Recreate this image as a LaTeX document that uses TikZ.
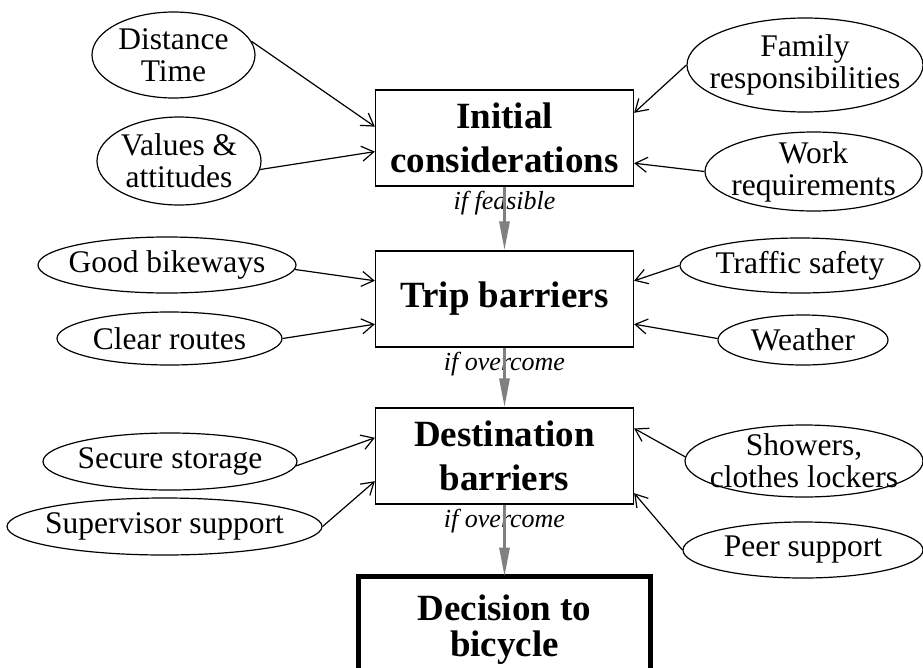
\documentclass[tikz,border=0pt]{standalone}
\usepackage{fontspec}
\setmainfont{Liberation Serif}
\usetikzlibrary{shapes.geometric}
\usetikzlibrary{arrows.meta}
\tikzset{
    stagebox/.style = {rectangle, draw=black, line width=1.3pt, align=center, minimum width=258pt, minimum height=96pt, font=\bfseries\fontsize{37}{44}\selectfont},
    goalbox/.style = {stagebox, line width=5pt, minimum width=292pt, minimum height=107pt, font=\bfseries\fontsize{37}{36}\selectfont},
    factor/.style = {ellipse, draw=black, line width=1.2pt, inner sep=0pt},
    cond/.style = {below, inner sep=4pt, font=\itshape\fontsize{26}{30}\selectfont},
    edgek/.style = {-{Straight Barb[length=12pt,width=15pt]}, line width=1.2pt},
    edgeg/.style = {-{Triangle[length=29pt,width=10pt]}, line width=3pt, black!50}, % stage to stage
    every label/.style = {align=center}
}
\begin{document}
\begin{tikzpicture}[x=1pt, y=-1pt, font=\fontsize{31.5}{32}\selectfont]
\useasboundingbox (0,0) rectangle (923,667);
%
\node[stagebox] at (504.5,138) (init) {Initial\\considerations};
\node[stagebox] at (504.5,299) (trip) {Trip barriers};
\node[stagebox] at (504.5,456) (dest) {Destination\\barriers};
\node[goalbox] at (504.5,630) (dec) {Decision to\\bicycle};
%
\node[factor, minimum width=163pt, minimum height=86pt, label={center:Distance\\Time}] at (173.5,55) (dt) {};
\node[factor, minimum width=164pt, minimum height=88pt, label={center:Values \&\\attitudes}] at (179,161) (va) {};
\node[factor, minimum width=236pt, minimum height=94pt, label={center:Family\\responsibilities}] at (805,65) (fr) {};
\node[factor, minimum width=217pt, minimum height=79pt, label={center:Work\\requirements}] at (813.5,171.5) (wr) {};
\node[factor, minimum width=258pt, minimum height=56pt, label={center:Good bikeways}] at (167,265) (gb) {};
\node[factor, minimum width=225pt, minimum height=53pt, label={center:Clear routes}] at (169.5,338.5) (cr) {};
\node[factor, minimum width=240pt, minimum height=55pt, label={center:Traffic safety}] at (800,265.5) (ts) {};
\node[factor, minimum width=170pt, minimum height=50pt, label={center:Weather}] at (803,340) (we) {};
\node[factor, minimum width=254pt, minimum height=57pt, label={center:Secure storage}] at (170,461.5) (ss) {};
\node[factor, minimum width=315pt, minimum height=57pt, label={center:Supervisor support}] at (164.5,526.5) (sv) {};
\node[factor, minimum width=238pt, minimum height=72pt, label={center:Showers,\\clothes lockers}] at (804,461) (sh) {};
\node[factor, minimum width=240pt, minimum height=56pt, label={center:Peer support}] at (803,550) (ps) {};
%
\node[cond] at (init.south) (lf) {if feasible};
\node[cond] at (trip.south) (lt) {if overcome};
\node[cond] at (dest.south) (ld) {if overcome};
%
\draw[edgeg] (init.south) -- (trip.north);
\draw[edgeg] (trip.south) -- (dest.north);
\draw[edgeg] (dest.south) -- ([yshift=-2.5pt]dec.north);
%
\draw[edgek] (dt.10) -- (init.175);
\draw[edgek] (va.354) -- (init.186);
\draw[edgek] (fr.180) -- (init.11);
\draw[edgek] (wr.180) -- (init.349);
\draw[edgek] (gb.358) -- (trip.172);
\draw[edgek] (cr.0) -- (trip.191);
\draw[edgek] (ts.180) -- (trip.8);
\draw[edgek] (we.179) -- (trip.349);
\draw[edgek] (ss.358) -- (dest.172);
\draw[edgek] (sv.0) -- (dest.191);
\draw[edgek] (sh.178) -- (dest.12);
\draw[edgek] (ps.180) -- (dest.344);
\end{tikzpicture}
\end{document}
